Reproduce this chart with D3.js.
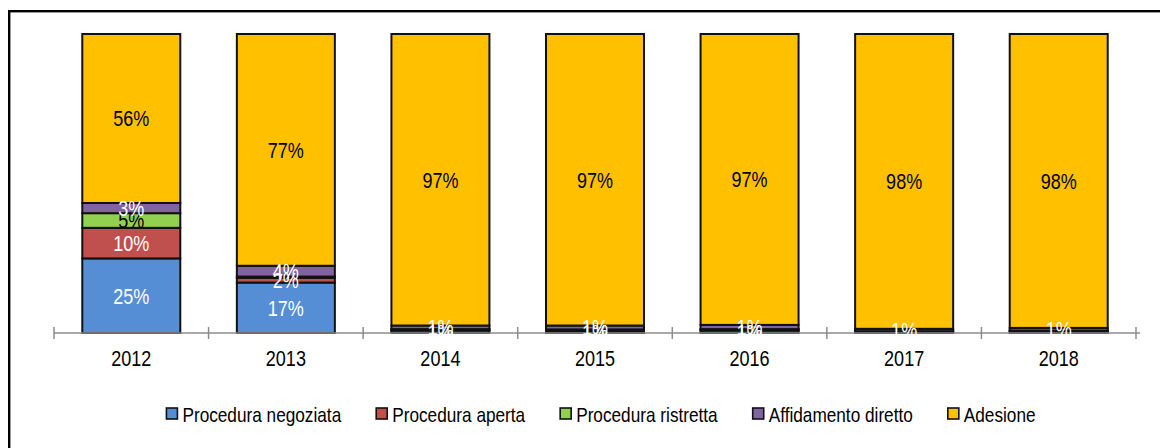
<!DOCTYPE html>
<html>
<head>
<meta charset="utf-8">
<script src="https://cdn.jsdelivr.net/npm/d3@7"></script>
<style>
  body { margin: 0; background: #fff; }
  svg text { font-family: 'Liberation Sans', Arial, sans-serif; }
</style>
</head>
<body>
<div id="chart"></div>
<script>
// anni sull'asse x
const years = ['2012', '2013', '2014', '2015', '2016', '2017', '2018'];

// serie (valori percentuali)
const seriesNames = ['Procedura negoziata', 'Procedura aperta', 'Procedura ristretta', 'Affidamento diretto', 'Adesione'];
const negoziata   = [24.9, 16.8, 0.8, 0.7, 0.8, 0.3, 0.4];
const aperta      = [10.2, 1.6, 0.3, 0.3, 0.3, 0.2, 0.3];
const ristretta   = [4.9, 0.4, 0.2, 0.2, 0.2, 0.1, 0.1];
const affidamento = [3.4, 3.6, 1.2, 1.3, 1.4, 0.8, 0.9];
const adesione    = [56.4, 77.2, 97.3, 97.4, 97.1, 98.4, 98.2];

const colors = ['#558ED5', '#C0504D', '#92D050', '#8064A2', '#FFC000'];
const labelColors = ['#fff', '#fff', '#000', '#fff', '#000'];

// il font del grafico originale e' "narrow": stringo il testo in orizzontale
const squeeze = 0.82;

const W = 1160, H = 448;
const baseY = 333, topY = 34;

const svg = d3.select('#chart')
    .append('svg')
    .attr('width', W)
    .attr('height', H);

// cornice esterna
svg.append('rect')
    .attr('x', 9.2).attr('y', 11.2)
    .attr('width', 1300).attr('height', 600)
    .attr('fill', 'none')
    .attr('stroke', '#000')
    .attr('stroke-width', 2.4);

// tabella per lo stack
const allSeries = [negoziata, aperta, ristretta, affidamento, adesione];
const table = years.map((yr, i) => {
    const row = { year: yr };
    seriesNames.forEach((s, k) => { row[s] = allSeries[k][i]; });
    return row;
});

const stacked = d3.stack()
    .keys(seriesNames)
    .offset(d3.stackOffsetExpand)(table);

const x = d3.scaleBand()
    .domain(years)
    .range([54, 1136])
    .paddingInner(0.366)
    .paddingOuter(0.183);

const y = d3.scaleLinear()
    .domain([0, 1])
    .range([baseY, topY]);

// barre
const groups = svg.append('g').selectAll('g')
    .data(stacked)
    .join('g')
    .attr('fill', (d, i) => colors[i]);

groups.selectAll('rect')
    .data(d => d)
    .join('rect')
    .attr('x', d => x(d.data.year))
    .attr('y', d => y(d[1]))
    .attr('width', x.bandwidth())
    .attr('height', d => y(d[0]) - y(d[1]))
    .attr('stroke', '#111')
    .attr('stroke-width', 2);

// asse x
const axisG = svg.append('g');
axisG.append('line')
    .attr('x1', 54).attr('x2', 1140)
    .attr('y1', baseY).attr('y2', baseY)
    .attr('stroke', '#8c8c8c')
    .attr('stroke-width', 1.5);

const step = x.step();
const bounds = years.map(d => x(d) - (step - x.bandwidth()) / 2);
bounds.push(bounds[bounds.length - 1] + step);
axisG.selectAll('.tick-mark')
    .data(bounds)
    .join('line')
    .attr('class', 'tick-mark')
    .attr('x1', d => d).attr('x2', d => d)
    .attr('y1', baseY - 6).attr('y2', baseY + 6)
    .attr('stroke', '#8c8c8c')
    .attr('stroke-width', 1.5);

const xa = svg.append('g')
    .attr('transform', `translate(0, ${baseY})`)
    .call(d3.axisBottom(x).tickSize(0).tickPadding(0));
xa.select('.domain').remove();
xa.attr('font-family', null).attr('font-size', null);
xa.selectAll('text')
    .attr('dy', '0.36em')
    .attr('y', 0)
    .attr('transform', `translate(0, 25) scale(${squeeze}, 1)`)
    .attr('font-size', 22)
    .attr('fill', '#000');

// etichette dei valori (sopra tutte le barre)
const labels = svg.append('g');
stacked.forEach((s, k) => {
    labels.append('g').selectAll('text')
        .data(s.filter(d => d.data[s.key] >= 0.5))
        .join('text')
        .attr('transform', d => `translate(${x(d.data.year) + x.bandwidth() / 2}, ${(y(d[0]) + y(d[1])) / 2}) scale(${squeeze}, 1)`)
        .attr('dy', '0.36em')
        .attr('text-anchor', 'middle')
        .attr('font-size', 22)
        .attr('fill', labelColors[k])
        .text(d => Math.round(d.data[s.key]) + '%');
});

// legenda
const legend = svg.append('g');
const items = legend.selectAll('g')
    .data(seriesNames)
    .join('g');
items.append('rect')
    .attr('width', 11).attr('height', 11)
    .attr('y', -6)
    .attr('fill', (d, i) => colors[i])
    .attr('stroke', '#111')
    .attr('stroke-width', 1.6);
items.append('text')
    .attr('transform', `translate(16, 0) scale(${squeeze}, 1)`)
    .attr('dy', '0.36em')
    .attr('font-size', 21)
    .text(d => d);

const gap = 35;
let cx = 0;
items.each(function () {
    const g = d3.select(this);
    g.attr('transform', `translate(${cx}, 0)`);
    cx += 16 + g.select('text').node().getComputedTextLength() * squeeze + gap;
});
const legW = cx - gap;
legend.attr('transform', `translate(${601 - legW / 2}, 414)`);
</script>
</body>
</html>
